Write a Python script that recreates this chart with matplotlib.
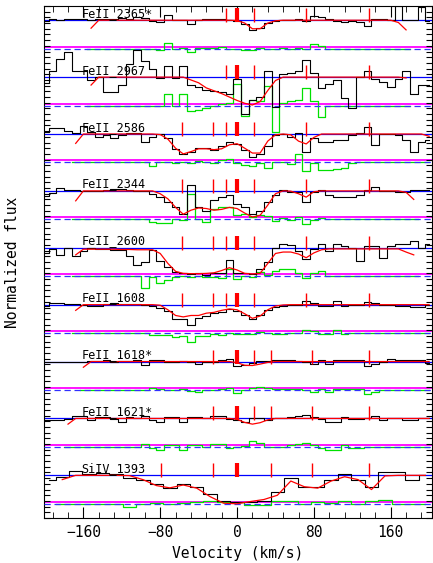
import numpy as np
import matplotlib
matplotlib.use("Agg")
import matplotlib.pyplot as plt
from matplotlib.ticker import MultipleLocator

nan = np.nan

# pixel velocities (km/s)
vel = np.arange(-200, 201, 8)
vel_siiv = np.arange(-196, 197, 14)

labels = ["FeII_2365*", "FeII_2967", "FeII_2586", "FeII_2344", "FeII_2600",
          "FeII_1608", "FeII_1618*", "FeII_1621*", "SiIV_1393"]

# normalized flux
flux_2365 = [0.98, 1.03, 1.00, 1.04, 1.03, 1.05, 1.02, 1.04, 1.05, 1.03,
             1.07, 1.06, 1.10, 1.08, 0.97, 0.95, 1.20, 1.00, 1.02, 0.88,
             1.02, 1.04, 1.03, 1.05, 1.00, 0.97, 0.85, 0.64, 0.72, 0.90,
             0.98, 1.02, 1.00, 1.03, 0.98, 1.15, 1.10, 1.05, 0.96, 0.93,
             0.97, 0.92, 0.80, 1.03, 1.05, 1.00, 1.50, 1.00, 1.00, 1.45, 0.98]
flux_2967 = [0.78, 1.20, 1.64, 1.90, 1.20, 1.20, 0.90, 1.00, 0.47, 0.47,
             0.72, 1.45, 1.95, 1.58, 1.27, 0.98, 1.40, 0.98, 1.40, 0.72,
             0.65, 0.53, 0.50, 0.47, 0.40, 0.95, -0.30, 0.20, 0.30, 1.20,
             -0.05, 1.10, 1.15, 1.20, 1.60, 1.15, 0.60, 0.75, 0.90, 0.28,
             -0.10, 1.00, 1.20, 0.95, 0.82, 0.65, 0.95, 1.20, 0.40, 0.72, 0.72]
flux_2586 = [1.06, 1.22, 1.22, 1.10, 1.05, 1.28, 1.06, 0.91, 0.96, 0.85,
             0.96, 1.04, 1.04, 0.73, 0.88, 1.00, 0.85, 0.48, 0.30, 0.36,
             0.52, 0.50, 0.42, 0.57, 0.73, 0.65, 0.42, 0.20, 0.30, 0.57,
             0.98, 1.00, 0.90, 1.03, 0.36, 0.85, 0.73, 0.73, 0.78, 0.80,
             0.98, 1.03, 1.25, 0.60, 1.00, 1.00, 0.95, 0.80, 0.36, 0.73, 0.78]
flux_2344 = [0.81, 0.91, 1.10, 1.04, 1.04, 1.00, 1.00, 1.00, 1.04, 1.06,
             1.06, 1.04, 1.00, 1.00, 0.90, 0.77, 0.60, 0.42, 0.17, 1.22,
             0.42, 0.30, 0.67, 0.77, 0.85, 0.54, 0.42, 0.17, 0.30, 0.60,
             0.85, 1.04, 0.97, 0.97, 0.60, 0.95, 1.04, 0.85, 0.80, 0.77,
             0.80, 0.85, 1.04, 1.12, 1.00, 1.00, 0.97, 0.97, 1.04, 1.04, 1.04]
flux_2600 = [0.81, 0.95, 0.73, 1.00, 0.72, 0.88, 1.00, 0.97, 0.97, 0.93,
             0.91, 0.70, 0.38, 0.50, 0.91, 0.55, 0.32, 0.16, 0.10, 0.08,
             0.10, 0.06, 0.10, 0.12, 0.57, 0.12, 0.10, 0.07, 0.26, 0.50,
             1.00, 1.12, 1.10, 0.88, 0.60, 0.94, 1.12, 0.90, 1.12, 1.05,
             1.00, 0.55, 1.06, 1.06, 0.64, 1.06, 1.12, 1.12, 1.24, 1.00, 1.12]
flux_1608 = [0.97, 1.05, 1.05, 1.04, 1.02, 1.00, 0.97, 0.97, 1.02, 1.05,
             1.04, 1.02, 1.02, 1.00, 0.95, 0.90, 0.77, 0.50, 0.48, 0.30,
             0.52, 0.60, 0.70, 0.75, 0.85, 0.78, 0.65, 0.48, 0.65, 0.83,
             0.93, 0.97, 1.00, 1.00, 1.12, 1.07, 0.97, 0.97, 1.12, 0.97,
             1.00, 1.00, 1.10, 1.05, 1.00, 1.00, 0.97, 0.97, 0.93, 0.93, 1.00]
flux_1618 = [1.00, 1.00, 1.00, 1.00, 1.00, 1.00, 1.01, 1.02, 1.05, 1.00,
             1.01, 1.03, 1.07, 0.89, 1.06, 1.04, 1.00, 1.00, 1.02, 0.97,
             0.93, 1.00, 1.00, 1.04, 1.08, 0.85, 0.87, 0.94, 1.02, 1.03,
             1.05, 1.05, 1.05, 1.03, 1.00, 0.93, 1.05, 0.93, 1.05, 1.05,
             1.05, 1.05, 0.85, 0.92, 1.00, 1.10, 1.05, 1.05, 1.05, 1.05, 0.95]
flux_1621 = [0.93, 0.93, 0.93, 0.97, 1.07, 1.07, 0.95, 1.05, 1.05, 0.97,
             0.89, 1.05, 1.00, 1.10, 0.95, 0.89, 1.05, 1.05, 0.89, 1.05,
             1.05, 1.00, 1.10, 1.10, 0.97, 0.95, 0.89, 1.00, 1.00, 0.93,
             1.00, 1.00, 1.05, 1.10, 1.12, 1.05, 0.97, 0.89, 0.89, 1.05,
             0.97, 0.97, 1.00, 1.10, 0.95, 1.00, 1.00, 0.95, 0.95, 1.00, 1.00]
flux_1393 = [0.85, 0.95, 1.14, 1.05, 1.07, 1.05, 0.89, 0.83, 0.68, 0.56,
             0.70, 0.60, 0.36, 0.10, 0.07, 0.05, 0.10, 0.40, 0.89, 0.60,
             0.60, 0.83, 1.05, 0.85, 0.60, 1.10, 1.10, 0.85, 1.00]

# fitted model profiles
model_2365 = [nan, nan, nan, nan, nan, nan, 0.72, 1.0, 1.0, 1.0,
              1.0, 1.0, 1.0, 1.0, 1.0, 1.0, 1.0, 1.0, 1.0, 1.0,
              1.0, 1.0, 1.0, 1.0, 1.0, 0.99, 0.90, 0.70, 0.70, 0.90,
              0.98, 1.0, 1.0, 1.0, 1.0, 1.0, 1.0, 1.0, 1.0, 1.0,
              1.0, 1.0, 1.0, 1.0, 1.0, 1.0, 0.92, 0.66, nan, nan, nan]
model_2967 = [nan, nan, nan, nan, nan, nan, 0.72, 1.0, 1.0, 1.0,
              1.0, 1.0, 1.0, 1.0, 1.0, 1.0, 1.0, 1.0, 1.0, 0.90,
              0.80, 0.62, 0.52, 0.42, 0.30, 0.18, 0.08, 0.02, 0.14, 0.53,
              0.88, 1.0, 1.0, 1.0, 1.0, 1.0, 1.0, 1.0, 1.0, 1.0,
              1.0, 1.0, 1.0, 1.0, 1.0, 1.0, 1.0, 0.97, nan, nan, nan]
model_2586 = [nan, nan, nan, nan, 0.67, 1.0, 1.0, 1.0, 1.0, 1.0,
              1.0, 1.0, 1.0, 1.0, 1.0, 0.98, 0.82, 0.50, 0.30, 0.38,
              0.48, 0.48, 0.45, 0.48, 0.62, 0.66, 0.50, 0.33, 0.33, 0.75,
              0.97, 1.0, 0.97, 0.75, 0.65, 0.88, 1.0, 1.0, 1.0, 1.0,
              1.0, 1.0, 1.0, 1.0, 1.0, 1.0, 1.0, 1.0, 1.0, 1.0, 0.92]
model_2344 = [nan, nan, nan, nan, 0.65, 1.0, 1.0, 1.0, 1.0, 1.0,
              1.0, 1.0, 1.0, 1.0, 1.0, 0.90, 0.72, 0.42, 0.18, 0.32,
              0.40, 0.38, 0.32, 0.35, 0.42, 0.38, 0.22, 0.08, 0.14, 0.50,
              0.90, 1.0, 0.99, 0.90, 0.78, 0.97, 1.0, 1.0, 1.0, 1.0,
              1.0, 1.0, 1.0, 1.0, 1.0, 1.0, 1.0, 0.95, 0.70, nan, nan]
model_2600 = [nan, nan, nan, nan, 0.75, 0.95, 0.95, 0.95, 0.95, 0.95,
              0.94, 0.94, 0.93, 0.93, 0.93, 0.80, 0.45, 0.17, 0.10, 0.09,
              0.09, 0.10, 0.12, 0.20, 0.30, 0.22, 0.10, 0.08, 0.10, 0.45,
              0.80, 0.85, 0.85, 0.78, 0.65, 0.82, 0.93, 0.96, 0.96, 0.96,
              0.96, 0.96, 0.96, 0.96, 0.96, 0.96, 0.96, 0.85, 0.75, nan, nan]
model_1608 = [nan, nan, nan, nan, 0.80, 1.0, 1.0, 1.0, 1.0, 1.0,
              1.0, 1.0, 1.0, 1.0, 1.0, 0.98, 0.82, 0.62, 0.57, 0.62,
              0.62, 0.70, 0.73, 0.80, 0.85, 0.82, 0.68, 0.52, 0.60, 0.82,
              0.95, 0.99, 1.0, 1.0, 1.0, 1.0, 1.0, 1.0, 1.0, 1.0,
              1.0, 1.0, 1.0, 1.0, 1.0, 1.0, 1.0, 1.0, 1.0, 1.0, 1.0]
model_1618 = [nan, nan, nan, nan, nan, 0.80, 1.0, 1.0, 1.0, 1.0,
              1.0, 1.0, 1.0, 1.0, 1.0, 1.0, 1.0, 1.0, 1.0, 1.0,
              1.0, 1.0, 1.0, 1.0, 1.0, 0.96, 0.87, 0.86, 0.91, 0.97,
              1.0, 1.0, 1.0, 1.0, 1.0, 1.0, 1.0, 1.0, 1.0, 1.0,
              1.0, 1.0, 1.0, 1.0, 1.0, 1.0, 1.0, 1.0, 1.0, 1.0, 1.0]
model_1621 = [nan, nan, nan, 0.80, 1.0, 1.0, 1.0, 1.0, 1.0, 1.0,
              1.0, 1.0, 1.0, 1.0, 1.0, 1.0, 1.0, 1.0, 1.0, 1.0,
              1.0, 1.0, 1.0, 1.0, 1.0, 0.97, 0.86, 0.80, 0.85, 0.95,
              1.0, 1.0, 1.0, 1.0, 1.0, 1.0, 1.0, 1.0, 1.0, 1.0,
              1.0, 1.0, 1.0, 1.0, 1.0, 1.0, 1.0, 1.0, 1.0, 1.0, 1.0]
model_1393 = [nan, 0.85, 1.0, 1.0, 1.0, 1.0, 0.99, 0.85, 0.64, 0.56,
              0.66, 0.55, 0.25, 0.02, 0.00, 0.08, 0.15, 0.30, 0.80, 0.60,
              0.55, 0.80, 0.95, 0.85, 0.50, 0.98, 1.0, 1.0, 1.0]

# velocity range of fitted pixels (residuals shown there)
fit_windows = [(-80, 90), (-80, 90), (-88, 120), (-88, 88), (-96, 88),
               (-88, 128), (-88, 144), (-96, 136), (-112, 154)]

# component positions (km/s)
comps_a = [-11, 0, 18, 72, 137]
comps_b = [-57, -25, -11, 0, 18, 72, 137]
comps_c = [-25, 0, 18, 35, 78, 137]
comps_d = [-79, -25, 0, 35, 78, 137]

panels = [
    (vel, flux_2365, model_2365, comps_a),
    (vel, flux_2967, model_2967, comps_a),
    (vel, flux_2586, model_2586, comps_b),
    (vel, flux_2344, model_2344, comps_b),
    (vel, flux_2600, model_2600, comps_b),
    (vel, flux_1608, model_1608, comps_b),
    (vel, flux_1618, model_1618, comps_c),
    (vel, flux_1621, model_1621, comps_c),
    (vel_siiv, flux_1393, model_1393, comps_d),
]

fig = plt.figure(figsize=(4.33, 5.63), dpi=100)
ax = fig.add_axes([44 / 433, 45 / 563, 388 / 433, 512 / 563])

mono = "DejaVu Sans Mono"
npan = len(panels)
for k, (v, f, m, comps) in enumerate(panels):
    off = 0.5 + 2 * (npan - 1 - k)
    f = np.array(f)
    m = np.array(m)
    lo, hi = fit_windows[k]
    inwin = (v >= lo) & (v <= hi)
    resid = np.where(inwin, f - m, 0.0)
    resid[np.isnan(m)] = nan

    ax.axhline(off + 1, color="#0000ff", lw=0.9, zorder=1)
    ax.axhline(off + 0.07, color="#ff00ff", lw=1.3, zorder=1)
    ax.plot(v, resid + off, drawstyle="steps-mid", color="#00e000", lw=0.9, zorder=2)
    ax.axhline(off, color="#3030ff", lw=0.9, ls=(0, (5, 3)), zorder=3)
    ax.plot(v, f + off, drawstyle="steps-mid", color="black", lw=0.8, zorder=4)
    ax.plot(v, m + off, color="red", lw=0.9, zorder=5)
    for c in comps:
        ax.vlines(c, off + 0.93, off + 1.42, color="red",
                  lw=3.0 if c == 0 else 1.0, zorder=6)
    ax.text(-162, off + 1.12, labels[k], fontsize=8.5, family=mono,
            va="baseline", ha="left", zorder=7)

ax.set_xlim(-201, 203)
ax.set_ylim(0, 18)

ax.xaxis.set_major_locator(MultipleLocator(80))
ax.xaxis.set_minor_locator(MultipleLocator(16))
ax.yaxis.set_major_locator(MultipleLocator(0.2))
ax.tick_params(axis="both", which="both", direction="in", top=True, right=True)
ax.tick_params(axis="x", which="major", length=8, pad=5, labelsize=10.5)
ax.tick_params(axis="x", which="minor", length=4)
ax.tick_params(axis="y", which="major", length=4, labelleft=False)
for lab in ax.get_xticklabels():
    lab.set_family(mono)

ax.set_xlabel("Velocity (km/s)", family=mono, fontsize=10.5)
ax.set_ylabel("Normalized flux", family=mono, fontsize=10.5)
ax.xaxis.set_label_coords(0.5, -0.055)
ax.yaxis.set_label_coords(-0.062, 0.5)

fig.savefig("out.png", dpi=100)
